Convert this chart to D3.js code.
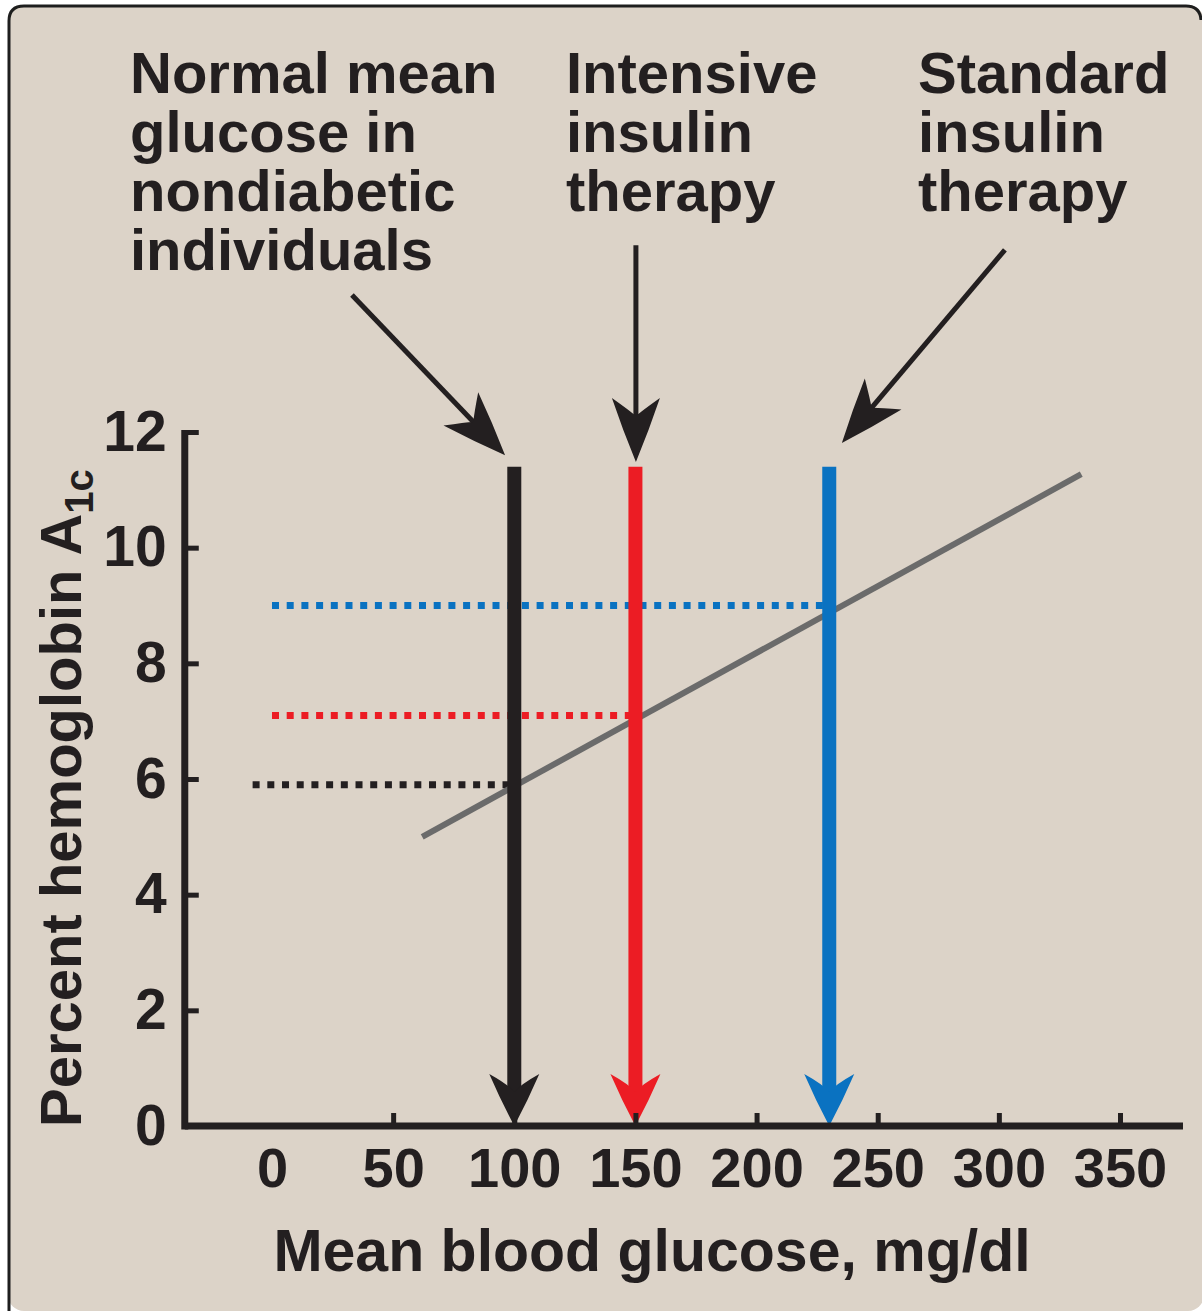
<!DOCTYPE html>
<html>
<head>
<meta charset="utf-8">
<script src="https://cdn.jsdelivr.net/npm/d3@7"></script>
<style>
  html, body { margin: 0; padding: 0; background: #ffffff; }
  svg { display: block; }
  text { font-family: "Liberation Sans", Arial, Helvetica, sans-serif; font-weight: bold; fill: #231f20; }
</style>
</head>
<body>
<script>
// ---- data ----
const xTicks = [0, 50, 100, 150, 200, 250, 300, 350];
const yTicks = [0, 2, 4, 6, 8, 10, 12];
const groups = ["Normal", "Intensive", "Standard"];
const glucose = [100, 150, 230];          // mean blood glucose, mg/dl
const a1c = [5.9, 7.1, 9.0];              // percent HbA1c read at those glucose levels
const dottedStart = [-8, 0, 0];           // x value where each dotted guide starts
const dottedEnd = [100, 148, 228];        // x value where each dotted guide stops
const arrowTop = 11.4;                    // top of vertical arrows (A1c units)
const fitX = [62, 334];                   // regression line, glucose
const fitY = [5.0, 11.27];                // regression line, A1c
const groupColors = ["#231f20", "#ec1c24", "#0a72c1"];
const labelLines = [
  ["Normal mean", "glucose in", "nondiabetic", "individuals"],
  ["Intensive", "insulin", "therapy"],
  ["Standard", "insulin", "therapy"]
];
// pointer arrows (data coords): start and tip
const pointerStart = [[33, 14.37], [150.2, 15.23], [302.5, 15.15]];
const pointerTip = [[96.2, 11.6], [150.2, 11.48], [235.2, 11.81]];
const xAxisExtent = [-36, 376];

// ---- layout ----
const W = 1202, H = 1313;
const svg = d3.select("body").append("svg").attr("width", W).attr("height", H);

const x = d3.scaleLinear().domain([0, 350]).range([272, 1120]);
const y = d3.scaleLinear().domain([0, 12]).range([1126, 432]);

// background + frame
svg.append("rect").attr("x", 0).attr("y", 0).attr("width", W).attr("height", H).attr("fill", "#ffffff");
svg.append("rect").attr("x", 8).attr("y", 5).attr("width", 1196).attr("height", 1306)
  .attr("rx", 16).attr("ry", 16).attr("fill", "#dcd3c8").attr("stroke", "none");
svg.append("path")
  .attr("d", "M9,1311 V21 Q9,6 24,6 H1186 Q1200,6 1201,20")
  .attr("fill", "none").attr("stroke", "#1e1e1e").attr("stroke-width", 3);

// ---- dotted guide lines ----
groups.forEach((g, i) => {
  svg.append("line")
    .attr("x1", x(dottedStart[i])).attr("x2", x(dottedEnd[i]))
    .attr("y1", y(a1c[i])).attr("y2", y(a1c[i]))
    .attr("stroke", groupColors[i]).attr("stroke-width", 7)
    .attr("stroke-dasharray", "7 7.7");
});

// ---- regression line ----
svg.append("path")
  .datum(fitX.map((v, i) => [v, fitY[i]]))
  .attr("d", d3.line().x(d => x(d[0])).y(d => y(d[1])))
  .attr("fill", "none").attr("stroke", "#6b6b6b").attr("stroke-width", 6);

// arrowhead helper: tip at origin, pointing along +x
function headPath(L, Wd, N) {
  return `M0,0 Q${-0.5 * L},${0.55 * Wd} ${-L},${Wd} Q${-0.8 * L},${0.25 * Wd} ${-N},0 Q${-0.8 * L},${-0.25 * Wd} ${-L},${-Wd} Q${-0.5 * L},${-0.55 * Wd} 0,0 Z`;
}

// ---- vertical arrows ----
groups.forEach((g, i) => {
  const cx = x(glucose[i]);
  svg.append("line")
    .attr("x1", cx).attr("x2", cx)
    .attr("y1", y(arrowTop)).attr("y2", y(0) - 30)
    .attr("stroke", groupColors[i]).attr("stroke-width", 14);
  svg.append("path")
    .attr("d", headPath(52, 25, 34))
    .attr("transform", `translate(${cx},${y(0)}) rotate(90)`)
    .attr("fill", groupColors[i]);
});

// ---- axes ----
const axisColor = "#231f20";
// x axis
const gx = svg.append("g").attr("transform", `translate(0,${y(0)})`)
  .call(d3.axisBottom(x).tickValues(xTicks).tickSizeInner(-13).tickSizeOuter(0).tickPadding(21).tickFormat(d3.format("d")));
gx.select(".domain").remove();
gx.selectAll(".tick line").attr("stroke", axisColor).attr("stroke-width", 5)
  .filter(d => d === 0).remove();
gx.selectAll(".tick text").attr("font-size", 56).attr("fill", axisColor)
  .style("font-family", "'Liberation Sans', Arial, sans-serif").style("font-weight", "bold");
svg.append("line")
  .attr("x1", x(xAxisExtent[0])).attr("x2", x(xAxisExtent[1]))
  .attr("y1", y(0)).attr("y2", y(0))
  .attr("stroke", axisColor).attr("stroke-width", 7);

// y axis
const gy = svg.append("g").attr("transform", `translate(${x(xAxisExtent[0])},0)`)
  .call(d3.axisLeft(y).tickValues(yTicks).tickSizeInner(-14).tickSizeOuter(0).tickPadding(18).tickFormat(d3.format("d")));
gy.select(".domain").remove();
gy.selectAll(".tick line").attr("stroke", axisColor).attr("stroke-width", 5);
gy.selectAll(".tick text").attr("font-size", 57).attr("fill", axisColor)
  .style("font-family", "'Liberation Sans', Arial, sans-serif").style("font-weight", "bold");
svg.append("line")
  .attr("x1", x(xAxisExtent[0])).attr("x2", x(xAxisExtent[0]))
  .attr("y1", y(12) - 2).attr("y2", y(0) + 3.5)
  .attr("stroke", axisColor).attr("stroke-width", 7);

// axis titles
svg.append("text")
  .attr("x", 652).attr("y", 1271)
  .attr("text-anchor", "middle").attr("font-size", 59)
  .text("Mean blood glucose, mg/dl");

const yt = svg.append("text")
  .attr("transform", "translate(81,1127) rotate(-90)")
  .attr("text-anchor", "start").attr("font-size", 58);
yt.append("tspan").text("Percent hemoglobin A");
yt.append("tspan").attr("font-size", 40).attr("dy", 12).text("1c");

// ---- annotation labels ----
const labelX = [130, 566, 918];
labelLines.forEach((lines, i) => {
  const t = svg.append("text").attr("x", labelX[i]).attr("y", 93).attr("font-size", 58);
  lines.forEach((ln, j) => {
    t.append("tspan").attr("x", labelX[i]).attr("dy", j === 0 ? 0 : 59).text(ln);
  });
});

// ---- pointer arrows ----
pointerStart.forEach((s, i) => {
  const x0 = x(s[0]), y0 = y(s[1]);
  const x1 = x(pointerTip[i][0]), y1 = y(pointerTip[i][1]);
  const ang = Math.atan2(y1 - y0, x1 - x0);
  const back = 44;
  svg.append("line")
    .attr("x1", x0).attr("y1", y0)
    .attr("x2", x1 - back * Math.cos(ang)).attr("y2", y1 - back * Math.sin(ang))
    .attr("stroke", "#231f20").attr("stroke-width", 5);
  svg.append("path")
    .attr("d", headPath(64, 24, 46))
    .attr("transform", `translate(${x1},${y1}) rotate(${ang * 180 / Math.PI})`)
    .attr("fill", "#231f20");
});
</script>
</body>
</html>
